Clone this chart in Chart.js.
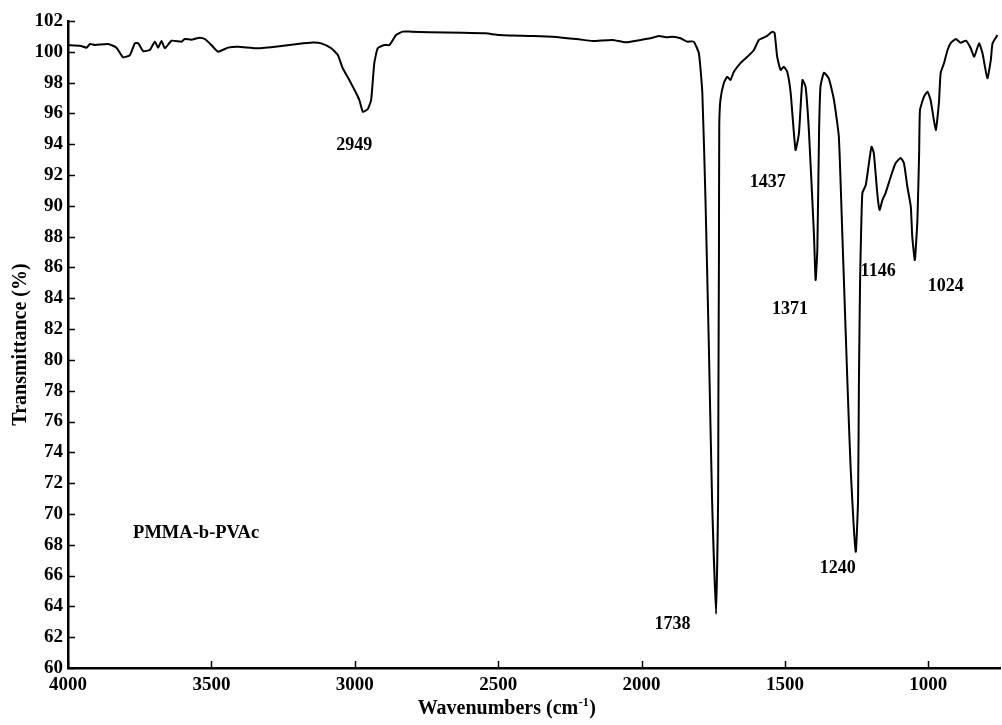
<!DOCTYPE html>
<html>
<head>
<meta charset="utf-8">
<script src="https://cdn.jsdelivr.net/npm/chart.js@4.4.1/dist/chart.umd.min.js"></script>
<style>
  html, body { margin: 0; padding: 0; background: #fff; }
  #wrap { width: 1002px; height: 725px; }
</style>
</head>
<body>
<div id="wrap"><canvas id="grafico"></canvas></div>
<script>
// espectro FTIR (cm-1, % transmitancia)
const numerosDeOnda = [
  4000, 3958, 3935, 3923, 3906, 3860, 3831, 3808, 3784, 3767, 3755, 3738, 3715, 3697, 3686, 3674, 3662, 3639,
  3604, 3593, 3570, 3541, 3523, 3500, 3477, 3442, 3407, 3338, 3256, 3199, 3146, 3117, 3082, 3059, 3042, 3019,
  2995, 2984, 2972, 2955, 2943, 2932, 2920, 2897, 2879, 2856, 2833, 2804, 2740, 2624, 2543, 2497, 2392, 2311,
  2218, 2172, 2102, 2056, 2004, 1969, 1940, 1911, 1893, 1864, 1841, 1818, 1800, 1788, 1777, 1765, 1754, 1740,
  1733, 1732, 1730, 1729, 1725, 1713, 1701, 1690, 1678, 1655, 1631, 1608, 1591, 1562, 1544, 1536, 1527, 1515,
  1504, 1492, 1480, 1463, 1451, 1439, 1428, 1416, 1399, 1393, 1387, 1381, 1376, 1364, 1347, 1329, 1312, 1300,
  1294, 1282, 1271, 1253, 1245, 1242, 1238, 1236, 1230, 1218, 1207, 1198, 1190, 1178, 1170, 1160, 1149, 1131,
  1114, 1096, 1085, 1073, 1061, 1056, 1047, 1038, 1032, 1029, 1015, 1003, 992, 974, 963, 957, 945, 933,
  922, 904, 887, 869, 852, 840, 823, 811, 794, 782, 776, 759
];
const transmitancia = [
  100.44, 100.40, 100.27, 100.51, 100.44, 100.51, 100.27, 99.64, 99.79, 100.55, 100.55, 100.05, 100.12, 100.66, 100.27, 100.70, 100.23, 100.72,
  100.66, 100.83, 100.79, 100.92, 100.83, 100.44, 100.01, 100.27, 100.33, 100.23, 100.38, 100.51, 100.60, 100.55, 100.23, 99.79, 98.93, 98.17,
  97.31, 96.87, 96.11, 96.27, 96.87, 99.25, 100.23, 100.44, 100.44, 101.09, 101.31, 101.31, 101.27, 101.24, 101.20, 101.09, 101.03, 100.98,
  100.81, 100.70, 100.77, 100.62, 100.77, 100.88, 101.03, 100.94, 100.98, 100.88, 100.66, 100.66, 99.90, 97.33, 90.38, 80.64, 70.91, 63.51,
  70.91, 77.40, 87.10, 95.14, 96.87, 97.98, 98.38, 98.17, 98.71, 99.27, 99.68, 100.12, 100.77, 101.03, 101.31, 101.22, 99.68, 98.82,
  99.03, 98.71, 97.33, 93.63, 94.73, 98.17, 97.74, 94.73, 88.24, 85.19, 87.13, 94.73, 97.74, 98.64, 98.28, 96.87, 94.49, 88.24,
  84.99, 78.50, 73.05, 67.55, 70.91, 78.50, 84.99, 86.94, 90.83, 91.35, 92.78, 93.84, 93.43, 90.83, 89.73, 90.38, 90.83, 91.89,
  92.78, 93.11, 92.78, 91.24, 89.94, 88.00, 86.49, 89.08, 93.43, 96.22, 97.09, 97.41, 96.87, 94.92, 96.68, 98.62, 99.27, 100.12,
  100.57, 100.83, 100.59, 100.72, 100.23, 99.68, 100.55, 99.90, 98.28, 99.47, 100.55, 101.09
];

// marcas dos eixos
const marcasX = [4000, 3500, 3000, 2500, 2000, 1500, 1000];

// rotulos dos picos
const rotulosTexto = ["2949", "1738", "1437", "1371", "1240", "1146", "1024"];
const rotulosX = [3002, 1892, 1560, 1482, 1316, 1175, 939];
const rotulosY = [93.9, 62.85, 91.55, 83.3, 66.5, 85.73, 84.8];

const amostra = "PMMA-b-PVAc";
const amostraX = 3773;
const amostraY = 68.76;

const FONTE = "'Liberation Serif', 'Times New Roman', serif";

const pontos = numerosDeOnda.map((w, i) => ({ x: w, y: transmitancia[i] }));

const marcasETextos = {
  id: "marcasETextos",
  afterDraw(chart) {
    const ctx = chart.ctx;
    const area = chart.chartArea;
    const sx = chart.scales.x;
    const sy = chart.scales.y;
    ctx.save();
    ctx.strokeStyle = "#000";
    ctx.lineWidth = 1.5;
    // marcas para dentro
    sy.ticks.forEach(t => {
      const y = Math.round(sy.getPixelForValue(t.value)) + 0.5;
      ctx.beginPath();
      ctx.moveTo(area.left, y);
      ctx.lineTo(area.left + 7, y);
      ctx.stroke();
    });
    sx.ticks.forEach(t => {
      const x = Math.round(sx.getPixelForValue(t.value)) + 0.5;
      ctx.beginPath();
      ctx.moveTo(x, area.bottom);
      ctx.lineTo(x, area.bottom - 7);
      ctx.stroke();
    });

    ctx.fillStyle = "#000";
    ctx.textAlign = "center";
    ctx.textBaseline = "middle";
    ctx.font = "bold 18px " + FONTE;
    rotulosTexto.forEach((txt, i) => {
      ctx.fillText(txt, sx.getPixelForValue(rotulosX[i]), sy.getPixelForValue(rotulosY[i]));
    });

    ctx.textAlign = "left";
    ctx.font = "bold 18.5px " + FONTE;
    ctx.fillText(amostra, sx.getPixelForValue(amostraX), sy.getPixelForValue(amostraY));

    // titulo do eixo x com expoente
    const principal = "Wavenumbers (cm";
    const expoente = "-1";
    const fim = ")";
    ctx.font = "bold 20px " + FONTE;
    const w1 = ctx.measureText(principal).width;
    const w3 = ctx.measureText(fim).width;
    ctx.font = "bold 12px " + FONTE;
    const w2 = ctx.measureText(expoente).width;
    const total = w1 + w2 + w3 + 1;
    let x0 = sx.getPixelForValue(2470) - total / 2;
    const yBase = area.bottom + 46;
    ctx.textBaseline = "alphabetic";
    ctx.font = "bold 20px " + FONTE;
    ctx.fillText(principal, x0, yBase);
    ctx.font = "bold 12px " + FONTE;
    ctx.fillText(expoente, x0 + w1 + 0.5, yBase - 8);
    ctx.font = "bold 20px " + FONTE;
    ctx.fillText(fim, x0 + w1 + w2 + 1, yBase);
    ctx.restore();
  }
};

new Chart(document.querySelector("#grafico"), {
  type: "line",
  data: {
    datasets: [{
      label: amostra,
      data: pontos,
      borderColor: "#000",
      borderWidth: 2,
      pointRadius: 0,
      tension: 0.15,
      fill: false
    }]
  },
  options: {
    responsive: true,
    maintainAspectRatio: false,
    animation: false,
    layout: { padding: { top: 21, right: 2, left: 0, bottom: 0 } },
    plugins: {
      legend: { display: false },
      tooltip: { enabled: false }
    },
    scales: {
      x: {
        type: "linear",
        reverse: true,
        min: 750,
        max: 4000,
        afterFit: escala => { escala.height = 57; },
        afterBuildTicks: escala => { escala.ticks = marcasX.map(v => ({ value: v })); },
        ticks: {
          color: "#000",
          padding: 6,
          maxRotation: 0,
          autoSkip: false,
          callback: v => String(v),
          font: { family: FONTE, size: 19, weight: "bold" }
        },
        grid: { display: true, drawOnChartArea: false, drawTicks: false },
        border: { display: true, color: "#000", width: 2.5 }
      },
      y: {
        min: 60,
        max: 102,
        afterFit: escala => { escala.width = 68; },
        ticks: {
          stepSize: 2,
          color: "#000",
          padding: 5,
          autoSkip: false,
          font: { family: FONTE, size: 19, weight: "bold" }
        },
        grid: { display: true, drawOnChartArea: false, drawTicks: false },
        border: { display: true, color: "#000", width: 2.5 },
        title: {
          display: true,
          text: "Transmittance (%)",
          color: "#000",
          padding: { top: 9, bottom: 0 },
          font: { family: FONTE, size: 20, weight: "bold" }
        }
      }
    }
  },
  plugins: [marcasETextos]
});
</script>
</body>
</html>
